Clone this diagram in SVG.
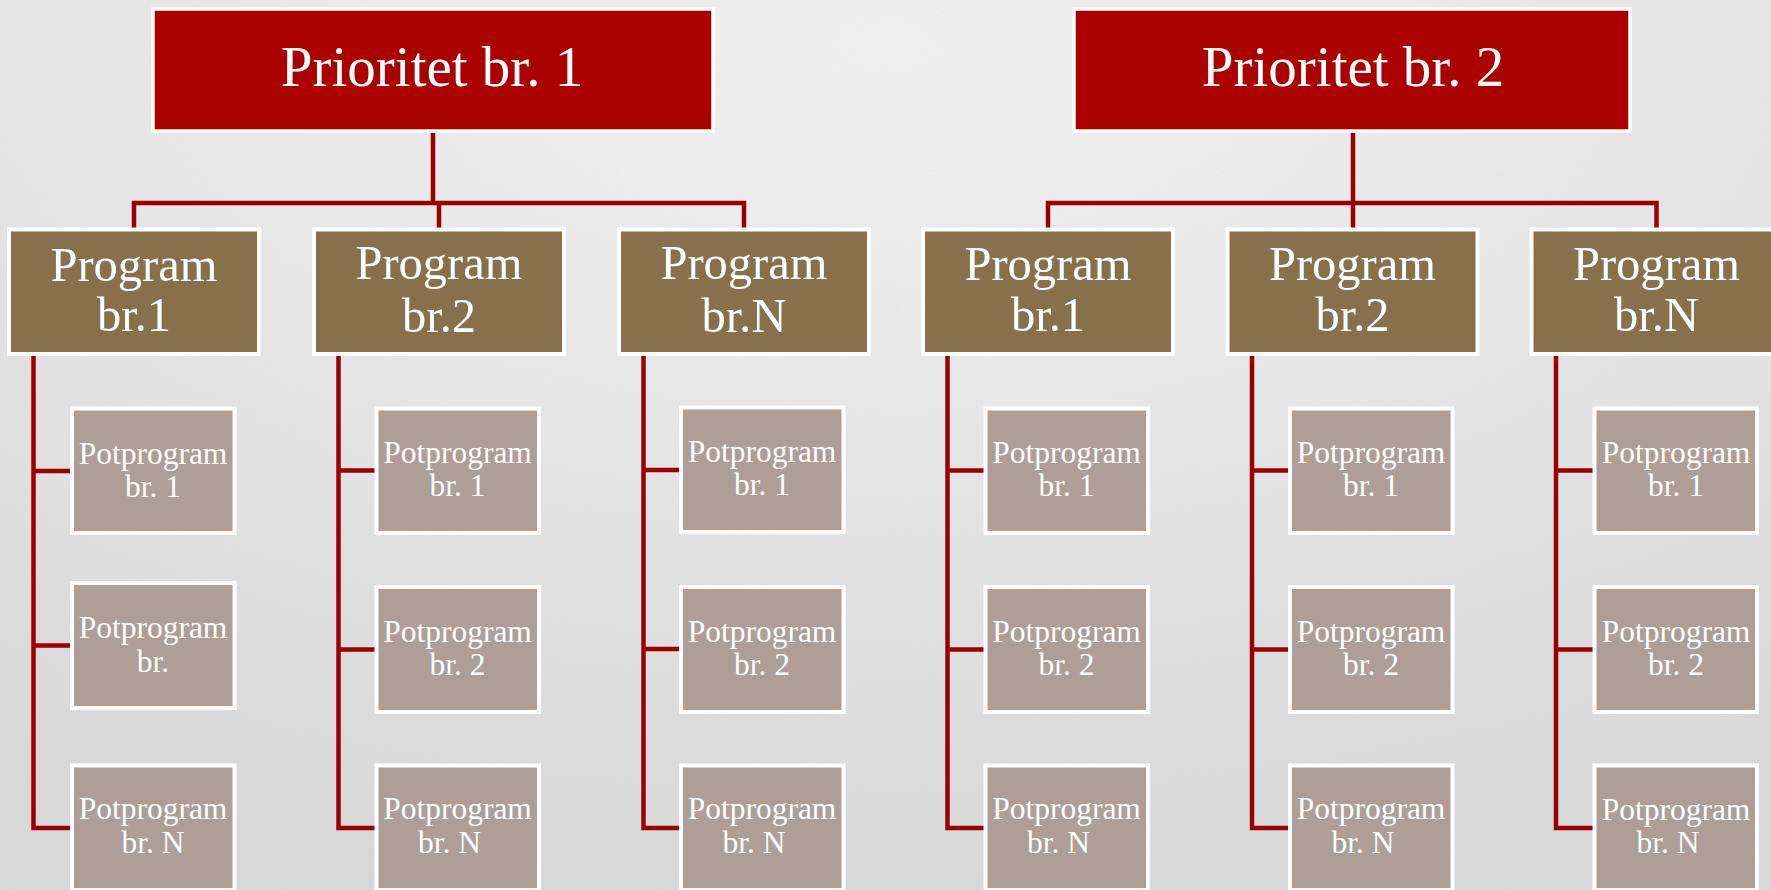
<svg xmlns="http://www.w3.org/2000/svg" width="1771" height="890" viewBox="0 0 1771 890">
<style>
.pri{fill:#AA0000;stroke:#FFFFFF;stroke-width:3.5}
.prg{fill:#87714D;stroke:#FFFFFF;stroke-width:4}
.pot{fill:#AE9E96;stroke:#FFFFFF;stroke-width:4}
.ln{fill:none;stroke:#9A0000;stroke-width:4.5;stroke-linejoin:miter;stroke-linecap:butt}
text{font-family:"Liberation Serif","Times New Roman",serif;fill:#FFFFFF;text-anchor:middle}
.t1{font-size:57px}
.t2{font-size:48.5px}
.t3{font-size:31.5px}
</style>
<defs>
<radialGradient id="bg" cx="50%" cy="5%" r="95%" gradientUnits="objectBoundingBox">
<stop offset="0" stop-color="#f4f4f4"/>
<stop offset="0.5" stop-color="#e8e8e8"/>
<stop offset="1" stop-color="#dadada"/>
</radialGradient>
<filter id="noise" x="0" y="0" width="100%" height="100%">
<feTurbulence type="fractalNoise" baseFrequency="0.9 0.6" numOctaves="2" seed="3" result="n"/>
<feColorMatrix in="n" type="matrix" values="0 0 0 0 0.5  0 0 0 0 0.5  0 0 0 0 0.5  0 0 0 0.16 0"/>
</filter>
</defs>
<rect x="0" y="0" width="1771" height="890" fill="url(#bg)"/>
<rect x="0" y="0" width="1771" height="890" filter="url(#noise)"/>

<g id="connectors">
<path class="ln" d="M433,133 V203 M134,228 V203 H744 V228 M439,203 V228"/>
<path class="ln" d="M1353,133 V203 M1048,228 V203 H1656.5 V228 M1353,203 V228"/>
<path class="ln" d="M33.5,356 V828 H70 M33.5,471 H70 M33.5,645.5 H70"/>
<path class="ln" d="M338.5,356 V828 H375 M338.5,470.5 H375 M338.5,649.5 H375"/>
<path class="ln" d="M643.5,356 V828 H680 M643.5,470 H680 M643.5,649 H680"/>
<path class="ln" d="M947.5,356 V828 H984 M947.5,470.5 H984 M947.5,649.5 H984"/>
<path class="ln" d="M1252,356 V828 H1289 M1252,470.5 H1289 M1252,649.5 H1289"/>
<path class="ln" d="M1556,356 V828 H1593 M1556,470.5 H1593 M1556,649.5 H1593"/>
</g>

<g id="prioritet1"><rect class="pri" x="153" y="9" width="560" height="122"/><text class="t1" x="432" y="86">Prioritet br. 1</text></g>
<g id="prioritet2"><rect class="pri" x="1074" y="9" width="556" height="122"/><text class="t1" x="1353" y="86">Prioritet br. 2</text></g>

<g id="program1-1"><rect class="prg" x="9" y="229.5" width="250" height="124.5"/><text class="t2" x="134" y="281">Program</text><text class="t2" x="134" y="331">br.1</text></g>
<g id="program1-2"><rect class="prg" x="314" y="229.5" width="250" height="124.5"/><text class="t2" x="439" y="279">Program</text><text class="t2" x="439" y="332">br.2</text></g>
<g id="program1-N"><rect class="prg" x="619" y="229.5" width="250" height="124.5"/><text class="t2" x="744" y="279">Program</text><text class="t2" x="744" y="332">br.N</text></g>
<g id="program2-1"><rect class="prg" x="923" y="229.5" width="250" height="124.5"/><text class="t2" x="1048" y="280">Program</text><text class="t2" x="1048" y="331">br.1</text></g>
<g id="program2-2"><rect class="prg" x="1227.5" y="229.5" width="250" height="124.5"/><text class="t2" x="1352.5" y="280">Program</text><text class="t2" x="1352.5" y="331">br.2</text></g>
<g id="program2-N"><rect class="prg" x="1531.5" y="229.5" width="250" height="124.5"/><text class="t2" x="1656.5" y="280">Program</text><text class="t2" x="1656.5" y="331">br.N</text></g>

<g id="pot1-1-1"><rect class="pot" x="72" y="408.5" width="162.5" height="124.5"/><text class="t3" x="153" y="463.5">Potprogram</text><text class="t3" x="153" y="496.5">br. 1</text></g>
<g id="pot1-1-2"><rect class="pot" x="72" y="583" width="162.5" height="125"/><text class="t3" x="153" y="638">Potprogram</text><text class="t3" x="153" y="671.5">br.</text></g>
<g id="pot1-1-N"><rect class="pot" x="72" y="765.5" width="162.5" height="124.5"/><text class="t3" x="153" y="819">Potprogram</text><text class="t3" x="153" y="853">br. N</text></g>

<g id="pot1-2-1"><rect class="pot" x="376.5" y="408.5" width="162.5" height="124.5"/><text class="t3" x="457.5" y="463">Potprogram</text><text class="t3" x="457.5" y="496">br. 1</text></g>
<g id="pot1-2-2"><rect class="pot" x="376.5" y="587" width="162.5" height="125"/><text class="t3" x="457.5" y="641.5">Potprogram</text><text class="t3" x="457.5" y="675">br. 2</text></g>
<g id="pot1-2-N"><rect class="pot" x="376.5" y="765.5" width="162.5" height="124.5"/><text class="t3" x="457.5" y="819">Potprogram</text><text class="t3" x="449.5" y="853">br. N</text></g>

<g id="pot1-N-1"><rect class="pot" x="681" y="407.5" width="162.5" height="124.5"/><text class="t3" x="762" y="462">Potprogram</text><text class="t3" x="762" y="495">br. 1</text></g>
<g id="pot1-N-2"><rect class="pot" x="681" y="587" width="162.5" height="125"/><text class="t3" x="762" y="641.5">Potprogram</text><text class="t3" x="762" y="675">br. 2</text></g>
<g id="pot1-N-N"><rect class="pot" x="681" y="765.5" width="162.5" height="124.5"/><text class="t3" x="762" y="819">Potprogram</text><text class="t3" x="754" y="853">br. N</text></g>

<g id="pot2-1-1"><rect class="pot" x="985.5" y="408.5" width="162.5" height="124.5"/><text class="t3" x="1066.5" y="463">Potprogram</text><text class="t3" x="1066.5" y="496">br. 1</text></g>
<g id="pot2-1-2"><rect class="pot" x="985.5" y="587" width="162.5" height="125"/><text class="t3" x="1066.5" y="641.5">Potprogram</text><text class="t3" x="1066.5" y="675">br. 2</text></g>
<g id="pot2-1-N"><rect class="pot" x="985.5" y="765.5" width="162.5" height="124.5"/><text class="t3" x="1066.5" y="819">Potprogram</text><text class="t3" x="1058.5" y="853">br. N</text></g>

<g id="pot2-2-1"><rect class="pot" x="1290" y="408.5" width="162.5" height="124.5"/><text class="t3" x="1371" y="463">Potprogram</text><text class="t3" x="1371" y="496">br. 1</text></g>
<g id="pot2-2-2"><rect class="pot" x="1290" y="587" width="162.5" height="125"/><text class="t3" x="1371" y="641.5">Potprogram</text><text class="t3" x="1371" y="675">br. 2</text></g>
<g id="pot2-2-N"><rect class="pot" x="1290" y="765.5" width="162.5" height="124.5"/><text class="t3" x="1371" y="819">Potprogram</text><text class="t3" x="1363" y="853">br. N</text></g>

<g id="pot2-N-1"><rect class="pot" x="1594.5" y="408.5" width="162.5" height="124.5"/><text class="t3" x="1676" y="463">Potprogram</text><text class="t3" x="1676" y="496">br. 1</text></g>
<g id="pot2-N-2"><rect class="pot" x="1594.5" y="587" width="162.5" height="125"/><text class="t3" x="1676" y="641.5">Potprogram</text><text class="t3" x="1676" y="675">br. 2</text></g>
<g id="pot2-N-N"><rect class="pot" x="1594.5" y="765.5" width="162.5" height="124.5"/><text class="t3" x="1676" y="820">Potprogram</text><text class="t3" x="1668" y="853">br. N</text></g>
</svg>
